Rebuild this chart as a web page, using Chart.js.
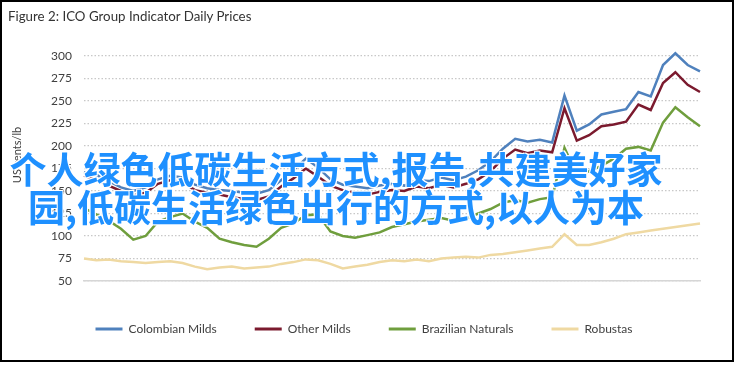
<!DOCTYPE html>
<html>
<head>
<meta charset="utf-8">
<script src="https://cdn.jsdelivr.net/npm/chart.js@4.4.1/dist/chart.umd.min.js"></script>
<style>
  html, body { margin: 0; padding: 0; background: #fff; }
  #wrap { position: relative; width: 736px; height: 365px; overflow: hidden; }
  #frame { position: absolute; left: 0; top: 0; width: 734px; height: 362px; box-sizing: border-box; border: 2px solid #000; }
  #chart { position: absolute; left: 0; top: 0; }
  #title { position: absolute; left: 8px; top: 7px; font: 13.3px Lato, sans-serif; line-height: 18px; color: #333; }
  #ytitle { position: absolute; left: 16px; top: 155px; font: 11px Lato, sans-serif; color: #404040;
            transform: translate(-50%, -50%) rotate(-90deg); white-space: nowrap; }
  #overlay { position: absolute; left: 0; top: 149px; width: 672px; text-align: center;
             font: 700 37px "Noto Sans CJK SC", sans-serif; line-height: 38px; color: #1e90ff;
             text-shadow: 1px 1px 0 #fff, -1px -1px 0 #fff, 1px -1px 0 #fff, -1px 1px 0 #fff, 0 0 2px #fff; }
</style>
</head>
<body>
<div id="wrap">
  <canvas id="chart" width="736" height="365"></canvas>
  <div id="frame"></div>
  <div id="title">Figure 2: ICO Group Indicator Daily Prices</div>
  <div id="ytitle">US cents/lb</div>
  <div id="overlay">个人绿色低碳生活方式,报告,共建美好家<br>园,低碳生活绿色出行的方式,以人为本</div>
</div>
<script>
// quarter labels on the x axis (one every 3 months, starting Dec-19)
const tickLabels = ['Dec-19', 'Mar-20', 'Jun-20', 'Sep-20', 'Dec-20', 'Mar-21', 'Jun-21', 'Sep-21', 'Dec-21'];
const seriesNames = ['Colombian Milds', 'Other Milds', 'Brazilian Naturals', 'Robustas'];
const seriesColors = ['#4f81bd', '#7b1a2e', '#6f9e3d', '#efd9a2'];

// values read roughly every half month, Dec-19 .. Dec-21 (US cents/lb)
const colombianMilds = [171, 168, 161, 154, 150, 154, 163, 167, 165, 157, 153, 151, 150, 148, 147, 151, 162,
  173, 186, 176, 163, 157, 155, 153, 156, 158, 156, 162, 161, 165, 162, 166, 173, 183, 197, 208, 205, 207,
  204, 256, 217, 224, 235, 238, 241, 260, 255, 290, 303, 290, 283];
const otherMilds = [167, 162, 156, 150, 145, 148, 158, 162, 160, 151, 148, 146, 143, 141, 140, 144, 155,
  164, 175, 166, 156, 151, 148, 146, 149, 151, 150, 155, 153, 157, 154, 158, 163, 172, 186, 196, 192, 195,
  193, 242, 206, 212, 222, 224, 227, 246, 240, 270, 282, 268, 260];
const brazilianNaturals = [131, 124, 117, 108, 96, 100, 116, 121, 125, 116, 109, 97, 93, 90, 88, 97, 109,
  114, 123, 124, 105, 100, 98, 101, 104, 110, 113, 116, 118, 120, 117, 119, 125, 130, 137, 140, 137, 141,
  143, 198, 168, 172, 178, 186, 197, 199, 195, 226, 243, 232, 222];
const robustas = [75, 73, 74, 72, 71, 70, 71, 72, 70, 66, 63, 65, 66, 64, 65, 66, 69,
  71, 74, 73, 69, 64, 66, 68, 71, 73, 72, 74, 72, 75, 76, 77, 76, 79, 80, 82, 84, 86,
  88, 102, 90, 90, 93, 97, 102, 104, 106, 108, 110, 112, 114];

const allSeries = [colombianMilds, otherMilds, brazilianNaturals, robustas];

const datasets = allSeries.map((values, i) => ({
  label: seriesNames[i],
  data: values.map((v, j) => ({ x: j / 2, y: v })),
  borderColor: seriesColors[i],
  backgroundColor: seriesColors[i],
  borderWidth: 2.5,
  pointRadius: 0,
  tension: 0,
  fill: false,
  clip: false,
}));

Chart.defaults.font.family = 'Lato, sans-serif';
Chart.defaults.color = '#404040';

new Chart(document.getElementById('chart'), {
  type: 'line',
  data: { datasets },
  options: {
    responsive: false,
    animation: false,
    layout: { padding: { left: 28, right: 36, top: 56, bottom: 20 } },
    plugins: {
      tooltip: { enabled: false },
      legend: {
        position: 'bottom',
        labels: {
          boxWidth: 27,
          boxHeight: 3,
          padding: 38,
          font: { size: 12 },
          color: '#404040',
          generateLabels: (chart) =>
            Chart.defaults.plugins.legend.labels.generateLabels(chart).map((l) => ({ ...l, lineWidth: 0 })),
        },
      },
    },
    scales: {
      x: {
        type: 'linear',
        min: 0,
        max: 25,
        afterFit: (s) => { s.height = 4; },
        grid: { display: false, drawTicks: false },
        border: { display: true, color: '#d6d6d6', width: 1.5 },
        ticks: {
          stepSize: 3,
          includeBounds: false,
          autoSkip: false,
          maxRotation: 0,
          padding: 9,
          font: { size: 12 },
          callback: (v) => tickLabels[v / 3],
        },
      },
      y: {
        min: 50,
        max: 300,
        afterFit: (s) => { s.width = 56; },
        grid: { color: '#c8c8c8', lineWidth: 1.2, drawTicks: false },
        border: { display: false, dash: [1.5, 2] },
        ticks: { stepSize: 25, padding: 12, font: { size: 12 } },
      },
    },
  },
});
</script>
</body>
</html>
